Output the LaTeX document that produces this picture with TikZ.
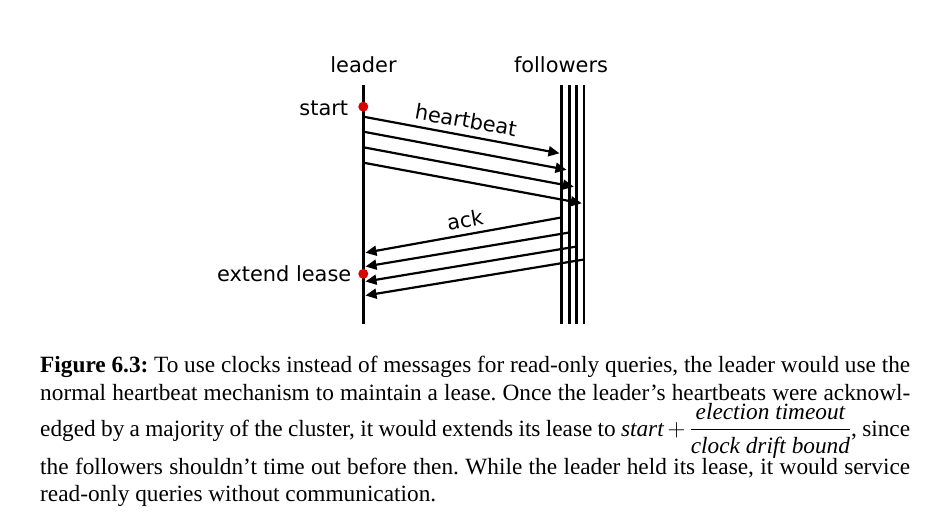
\documentclass[tikz,border=0pt]{standalone}
\usepackage{amsmath}
\usepackage{fontspec}
\setmainfont{Liberation Serif}
\newfontfamily\diagfont{DejaVu Sans}
\usetikzlibrary{arrows.meta}
\frenchspacing
\tikzset{
  timeline/.style={line width=2.7pt},
  msg/.style={line width=2.2pt,-{Triangle[length=11pt,width=10pt]}},
  dlabel/.style={font=\diagfont\fontsize{20.9}{24}\selectfont,inner sep=0pt},
  evdot/.style={circle,fill=red!85!black,inner sep=0pt,minimum size=10pt},
  capline/.style={font=\frenchspacing\fontsize{23.3}{28}\selectfont,inner sep=0pt,anchor=base west}
}
\begin{document}
\begin{tikzpicture}[x=1pt,y=-1pt]
\useasboundingbox (0,0) rectangle (932,525);
% timelines
\coordinate (Lt) at (363.5,85); \coordinate (Lb) at (363.5,324);
\draw[timeline] (Lt) -- (Lb);
\foreach \i/\x in {1/561.3,2/569.3,3/576.7,4/584}{
  \coordinate (F\i t) at (\x,85); \coordinate (F\i b) at (\x,324);
  \draw[timeline] (F\i t) -- (F\i b);
}
% labels
\node[dlabel,anchor=base] (leader) at (363.5,72.7) {leader};
\node[dlabel,anchor=base] (followers) at (561,72.7) {followers};
\node[evdot] (start) at (363.3,106.7) {};
\node[evdot] (lease) at (363.3,273.8) {};
\node[dlabel,anchor=base east] (startlbl) at (348.3,115) {start};
\node[dlabel,anchor=base east] (leaselbl) at (351.5,281.7) {extend lease};
% heartbeats
\coordinate (h1s) at (363.5,116.7); \coordinate (h1e) at (559.5,153.3);
\coordinate (h2s) at (363.5,131.7); \coordinate (h2e) at (566.5,169.8);
\coordinate (h3s) at (363.5,147.3); \coordinate (h3e) at (573.8,186.7);
\coordinate (h4s) at (363.5,162.7); \coordinate (h4e) at (581.7,203.3);
\foreach \i in {1,2,3,4}{ \draw[msg] (h\i s) -- (h\i e); }
% acks
\coordinate (a1s) at (561.3,217.5); \coordinate (a1e) at (365.5,252.7);
\coordinate (a2s) at (569.3,232.5); \coordinate (a2e) at (365.5,266.5);
\coordinate (a3s) at (576.7,246.5); \coordinate (a3e) at (365.5,281.5);
\coordinate (a4s) at (584,259.5); \coordinate (a4e) at (365.5,295.5);
\foreach \i in {1,2,3,4}{ \draw[msg] (a\i s) -- (a\i e); }
\node[dlabel,rotate=-10] (hb) at (466,120) {heartbeat};
\node[dlabel,rotate=10] (ack) at (465,219.5) {ack};
% caption
\node[capline] (c1) at (40,372.5) {\makebox[870pt][s]{\textbf{Figure 6.3:} To use clocks instead of messages for read-only queries, the leader would use the}};
\node[capline] (c2) at (40,400.5) {\makebox[870pt][s]{normal heartbeat mechanism to maintain a lease. Once the leader's heartbeats were acknowl-}};
\node[capline] (c3) at (40,436) {\makebox[870pt][s]{edged by a majority of the cluster, it would extends its lease to $\textit{start}+\dfrac{\textit{election timeout}}{\textit{clock drift bound}}$, since}};
\node[capline] (c4) at (40,474) {\makebox[870pt][s]{the followers shouldn't time out before then. While the leader held its lease, it would service}};
\node[capline] (c5) at (40,501.5) {read-only queries without communication.};
\end{tikzpicture}
\end{document}
